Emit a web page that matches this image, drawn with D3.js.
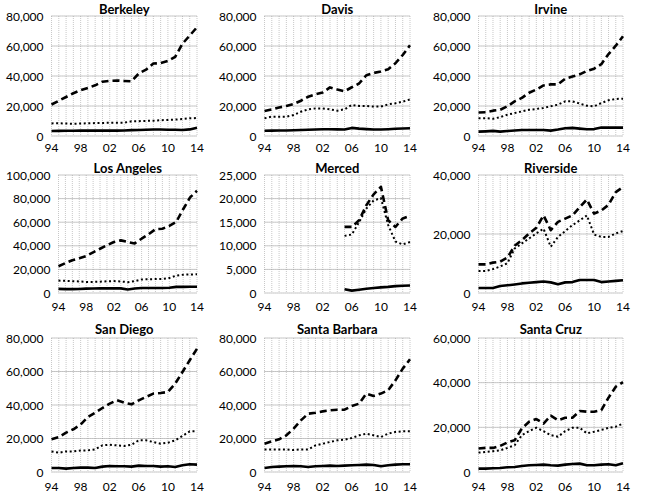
<!DOCTYPE html>
<html>
<head>
<meta charset="utf-8">
<script src="https://cdn.jsdelivr.net/npm/d3@7"></script>
<style>
  html, body { margin: 0; padding: 0; background: #fff; }
  svg { display: block; }
  text { font-family: Lato, "Open Sans", sans-serif; fill: #000; }
</style>
</head>
<body>
<div id="app"></div>
<script>
// Years on the category axis and the labels shown
const years = [1994, 1995, 1996, 1997, 1998, 1999, 2000, 2001, 2002, 2003, 2004,
               2005, 2006, 2007, 2008, 2009, 2010, 2011, 2012, 2013, 2014];
const xTickYears = [1994, 1998, 2002, 2006, 2010, 2014];
const xTickLabels = ["94", "98", "02", "06", "10", "14"];

const campuses = ["Berkeley", "Davis", "Irvine", "Los Angeles", "Merced", "Riverside",
                  "San Diego", "Santa Barbara", "Santa Cruz"];

// y-axis maximum and step for each campus panel
const yMax  = [80000, 80000, 80000, 100000, 25000, 40000, 80000, 80000, 60000];
const yStep = [20000, 20000, 20000, 20000, 5000, 20000, 20000, 20000, 20000];

// dashed = applied, dotted = admitted, solid = enrolled
const berkeleyApplied  = [21000, 23500, 26000, 28500, 30500, 32000, 33800, 36200, 36800, 37000, 36700, 36500, 41700, 44200, 48300, 48600, 50000, 52800, 61500, 67000, 72500];
const berkeleyAdmitted = [8400, 8500, 8300, 8200, 8300, 8500, 8600, 8700, 8800, 8900, 8900, 9800, 9900, 10100, 10200, 10500, 10700, 10900, 11300, 11800, 12000];
const berkeleyEnrolled = [3300, 3400, 3500, 3500, 3600, 3600, 3600, 3600, 3600, 3600, 3700, 3900, 4000, 4200, 4300, 4300, 4200, 4200, 4000, 4400, 5500];

const davisApplied  = [16700, 17700, 19000, 20000, 21300, 23500, 26200, 27800, 29000, 32400, 31000, 29800, 32500, 35000, 40500, 42000, 43000, 44500, 48500, 54000, 60500];
const davisAdmitted = [11800, 12900, 12900, 12900, 14000, 16200, 17800, 18400, 18400, 17800, 16900, 17800, 20700, 20000, 20000, 19600, 19600, 21100, 21800, 22900, 24400];
const davisEnrolled = [3500, 3600, 3700, 3700, 3800, 4000, 4200, 4300, 4500, 4500, 4400, 4300, 5400, 4900, 4600, 4300, 4300, 4500, 4800, 5000, 5200];

const irvineApplied  = [15700, 15800, 16900, 17500, 19800, 23100, 25400, 28800, 31000, 33700, 34400, 34400, 38200, 39600, 41100, 43400, 44900, 47900, 54600, 60200, 66500];
const irvineAdmitted = [11900, 11900, 11500, 12600, 14200, 15300, 16400, 17500, 18000, 18700, 19800, 20900, 23100, 23100, 21600, 20200, 19800, 22000, 23800, 24700, 24900];
const irvineEnrolled = [2900, 3100, 3400, 2900, 3300, 3700, 4000, 4000, 4000, 4000, 3600, 4300, 5200, 5400, 4900, 4500, 4600, 5600, 5600, 5600, 5600];

const laApplied  = [22700, 25300, 27800, 29500, 31300, 34500, 37500, 40500, 43200, 44600, 43200, 42000, 46000, 49700, 54000, 54500, 56800, 60200, 71000, 81000, 86600];
const laAdmitted = [10500, 10300, 10000, 9800, 9400, 9400, 9600, 9900, 10100, 9800, 9200, 10000, 11500, 11600, 11800, 12000, 12700, 14800, 15500, 15700, 15900];
const laEnrolled = [3500, 3300, 3300, 3400, 3700, 3800, 3900, 3900, 4000, 3900, 3000, 3800, 4300, 4300, 4300, 4200, 4400, 5200, 5200, 5300, 5300];

const mercedApplied  = [null, null, null, null, null, null, null, null, null, null, null, 14000, 14000, 15400, 18600, 20900, 22500, 15400, 14000, 15800, 16300];
const mercedAdmitted = [null, null, null, null, null, null, null, null, null, null, null, 12100, 12400, 15000, 17900, 19600, 20100, 14400, 10900, 10300, 10800];
const mercedEnrolled = [null, null, null, null, null, null, null, null, null, null, null, 800, 500, 700, 900, 1050, 1200, 1300, 1450, 1550, 1600];

const riversideApplied  = [9700, 9700, 10300, 10600, 12000, 16000, 17900, 20200, 22100, 26300, 21300, 24100, 25200, 26300, 29100, 31700, 26900, 28000, 29900, 34200, 35900];
const riversideAdmitted = [7500, 7500, 8100, 9000, 10100, 15100, 16800, 18500, 20200, 21800, 15700, 19000, 21000, 23000, 24600, 26300, 19800, 19000, 19000, 20200, 21000];
const riversideEnrolled = [1700, 1700, 1700, 2350, 2600, 2900, 3250, 3500, 3700, 3900, 3600, 3000, 3600, 3700, 4400, 4400, 4400, 3700, 3900, 4100, 4300];

const sanDiegoApplied  = [19500, 20900, 23500, 25500, 28300, 32800, 35400, 38200, 40800, 42800, 41400, 40400, 42800, 44800, 46800, 47200, 47800, 52700, 59700, 66700, 73600];
const sanDiegoAdmitted = [12300, 11500, 12300, 12300, 12900, 12900, 13500, 15900, 16300, 15900, 15500, 16300, 18900, 18900, 17900, 16900, 17500, 18900, 21500, 24300, 24300];
const sanDiegoEnrolled = [2400, 2400, 2000, 2400, 2600, 2600, 2400, 3200, 3600, 3400, 3400, 3200, 3800, 3600, 3600, 3200, 3400, 3000, 4000, 4600, 4400];

const santaBarbaraApplied  = [16900, 18300, 19500, 21900, 25900, 30800, 34800, 35400, 36200, 36800, 37200, 37200, 39400, 40800, 46800, 45400, 46800, 48800, 54700, 61700, 67300];
const santaBarbaraAdmitted = [13500, 13500, 13500, 13500, 13100, 13500, 13500, 15900, 16900, 17900, 18900, 19300, 20300, 21900, 22900, 21900, 20900, 22900, 23900, 24300, 24300];
const santaBarbaraEnrolled = [2400, 3000, 3200, 3400, 3600, 3400, 3000, 3400, 3600, 3800, 3600, 3800, 4000, 4200, 4400, 4200, 3400, 4000, 4400, 4600, 4600];

const santaCruzApplied  = [10500, 10800, 10800, 11700, 13200, 14200, 19500, 22500, 23700, 21700, 25200, 23200, 24300, 24300, 27300, 27000, 27000, 27700, 33300, 38200, 40200];
const santaCruzAdmitted = [8700, 9000, 9300, 9700, 10800, 12000, 16500, 18300, 19800, 18300, 16500, 15800, 18300, 19800, 19800, 17300, 18000, 18800, 19800, 20300, 21700];
const santaCruzEnrolled = [1500, 1500, 1700, 1800, 2100, 2250, 2700, 3000, 3150, 3300, 3000, 2850, 3300, 3600, 3750, 3000, 3000, 3300, 3450, 3000, 3900];

const panelSeries = [
  [berkeleyApplied, berkeleyAdmitted, berkeleyEnrolled],
  [davisApplied, davisAdmitted, davisEnrolled],
  [irvineApplied, irvineAdmitted, irvineEnrolled],
  [laApplied, laAdmitted, laEnrolled],
  [mercedApplied, mercedAdmitted, mercedEnrolled],
  [riversideApplied, riversideAdmitted, riversideEnrolled],
  [sanDiegoApplied, sanDiegoAdmitted, sanDiegoEnrolled],
  [santaBarbaraApplied, santaBarbaraAdmitted, santaBarbaraEnrolled],
  [santaCruzApplied, santaCruzAdmitted, santaCruzEnrolled]
];

// layout of the 3x3 grid
const W = 650, H = 495;
const colLabelStart = [4, 217, 431];
const colRight = [197, 410, 623];
const rows = [
  { top: 16,  bottom: 136, title: 14,  xlab: 152 },
  { top: 175, bottom: 293, title: 173, xlab: 311 },
  { top: 338, bottom: 472, title: 334, xlab: 491 }
];
const lineStyles = [
  { width: 2.6, dash: "7,4" },
  { width: 2,   dash: "2,2.6" },
  { width: 2.6, dash: null }
];

const svg = d3.select("#app").append("svg")
  .attr("width", W)
  .attr("height", H);

const fmt = d3.format(",");
const labelSize = 12;

campuses.forEach((name, i) => {
  const col = i % 3, row = rows[Math.floor(i / 3)];
  const g = svg.append("g");

  const ticks = d3.range(0, yMax[i] + 1, yStep[i]);

  // y labels first, so the plot can start after the widest one
  const yLabels = g.append("g");
  yLabels.selectAll("text")
    .data(ticks)
    .join("text")
      .attr("font-size", labelSize)
      .attr("text-anchor", "end")
      .attr("dominant-baseline", "central")
      .text(d => fmt(d));
  let maxW = 0;
  yLabels.selectAll("text").each(function () { maxW = Math.max(maxW, this.getComputedTextLength()); });

  const left = colLabelStart[col] + maxW + 10;
  const right = colRight[col];

  const x = d3.scaleLinear().domain([years[0], years[years.length - 1]]).range([left, right]);
  const y = d3.scaleLinear().domain([0, yMax[i]]).range([row.bottom, row.top]);

  yLabels.selectAll("text")
    .attr("x", left - 8)
    .attr("y", d => y(d));

  // vertical gridlines, one per year
  g.append("g").selectAll("line")
    .data(years)
    .join("line")
      .attr("x1", d => x(d)).attr("x2", d => x(d))
      .attr("y1", row.top).attr("y2", row.bottom)
      .attr("stroke", "#c8c8c8")
      .attr("stroke-width", 1)
      .attr("stroke-dasharray", "1,1");

  // horizontal gridlines at major ticks
  g.append("g").selectAll("line")
    .data(ticks)
    .join("line")
      .attr("x1", left).attr("x2", right)
      .attr("y1", d => y(d)).attr("y2", d => y(d))
      .attr("stroke", "#8c8c8c")
      .attr("stroke-width", 1)
      .attr("stroke-dasharray", "1,1");

  // x labels
  g.append("g").selectAll("text")
    .data(xTickYears)
    .join("text")
      .attr("x", d => x(d))
      .attr("y", row.xlab)
      .attr("font-size", labelSize)
      .attr("text-anchor", "middle")
      .text((d, k) => xTickLabels[k]);

  // series
  panelSeries[i].forEach((vals, s) => {
    const line = d3.line()
      .defined(d => d != null)
      .x((d, k) => x(years[k]))
      .y(d => y(d));
    g.append("path")
      .datum(vals)
      .attr("d", line)
      .attr("fill", "none")
      .attr("stroke", "#000")
      .attr("stroke-width", lineStyles[s].width)
      .attr("stroke-dasharray", lineStyles[s].dash)
      .attr("stroke-linejoin", "round");
  });

  // title
  g.append("text")
    .attr("x", (left + right) / 2)
    .attr("y", row.title)
    .attr("text-anchor", "middle")
    .attr("font-size", 13)
    .attr("font-weight", "bold")
    .text(name);
});
</script>
</body>
</html>
